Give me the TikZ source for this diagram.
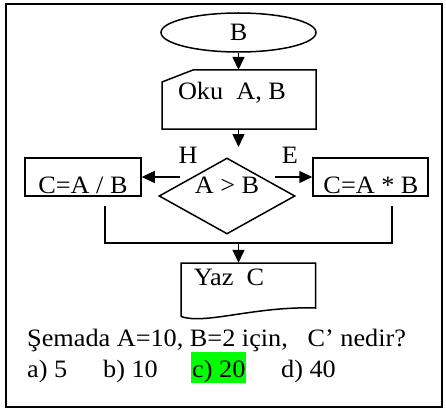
\documentclass[tikz,border=0pt]{standalone}
\usepackage{fontspec}
\setmainfont{Liberation Serif}[FakeStretch=1.05]
\usepackage{tikz}
\usepackage{xcolor}
\usetikzlibrary{shapes.geometric, arrows.meta, positioning, calc}
\definecolor{answergreen}{RGB}{0,255,0}

\begin{document}
\begin{tikzpicture}[
            x=1pt, y=-1pt,
            font=\fontsize{25}{29}\selectfont,
            line/.style={draw=black, line width=1.5pt},
            arr/.style={line, -{Triangle[length=13pt, width=12pt]}},
            terminal/.style={ellipse, line, minimum width=155pt, minimum height=39pt, inner sep=0pt},
            shapebox/.style={rectangle, inner sep=0pt},
            process/.style={rectangle, line, inner sep=0pt, minimum width=116pt, minimum height=38pt},
            decision/.style={diamond, line, inner sep=0pt, minimum width=136pt, minimum height=76pt},
            txt/.style={inner sep=0pt}
        ]
            \useasboundingbox (0,0) rectangle (446,409);

% Outer frame
            \draw[line width=2pt] (6,4) rectangle (442,407);

% Start
            \node[terminal] (start) at (238.5,32.5) {B};

% Read (manual input)
            \node[shapebox, minimum width=154pt, minimum height=59pt] (read) at (239,99.5) {};
            \draw[line] (162,129) -- (162,82) -- (193,70) -- (316,70) -- (316,129) -- cycle;
            \node[txt] (readtxt) at (232,93) {Oku\ \ A, B};

% Decision
            \node[decision] (cond) at (227,196) {};
            \node[txt] (condtxt) at (227,185) {A > B};
            \coordinate (condtop) at (238.5,147);
            \coordinate (hstart) at (180,177);
            \coordinate (estart) at (275,177);
            \node[txt] (hlabel) at (188,155) {H};
            \node[txt] (elabel) at (290,155) {E};

% Branches
            \node[process] (divide) at (83,177) {};
            \node[txt] (dividetxt) at (83,185) {C=A / B};
            \node[process, minimum width=115pt] (multiply) at (370.5,177) {};
            \node[txt] (multiplytxt) at (371,185) {C=A * B};

% Merge
            \coordinate (lstub) at (105,206);
            \coordinate (rstub) at (392,206);
            \coordinate (merge) at (238.5,243);

% Output (document)
            \node[shapebox, minimum width=134pt, minimum height=44pt] (write) at (248.5,285) {};
            \draw[line] (181,316.5) -- (181,263) -- (315.5,263) -- (315.5,308)
                .. controls (255,306) and (205,325) .. (181,316.5);
            \node[txt] (writetxt) at (229,277) {Yaz\ \ C};

% Connectors
            \draw[arr] (start.south) -- (start.south |- read.north);
            \draw[arr] (read.south -| condtop) -- (condtop);
            \draw[arr] (hstart) -- (divide.east);
            \draw[arr] (estart) -- (multiply.west);
            \draw[line] (lstub) |- (merge) -| (rstub);
            \draw[arr] (merge) -- (merge |- write.north);

% Question and answers
            \node[txt, anchor=base west] (question) at (27,346) {Şemada A=10, B=2 için,\ \ \ C’ nedir?};
            \node[txt, anchor=base west] (ansa) at (27,377) {a) 5};
            \node[txt, anchor=base west] (ansb) at (103,377) {b) 10};
            \node[txt, anchor=base west, fill=answergreen, inner xsep=1pt, text height=25pt, text depth=6pt] (ansc) at (191,377) {c) 20};
            \node[txt, anchor=base west] (ansd) at (281,377) {d) 40};

        \end{tikzpicture}
\end{document}
